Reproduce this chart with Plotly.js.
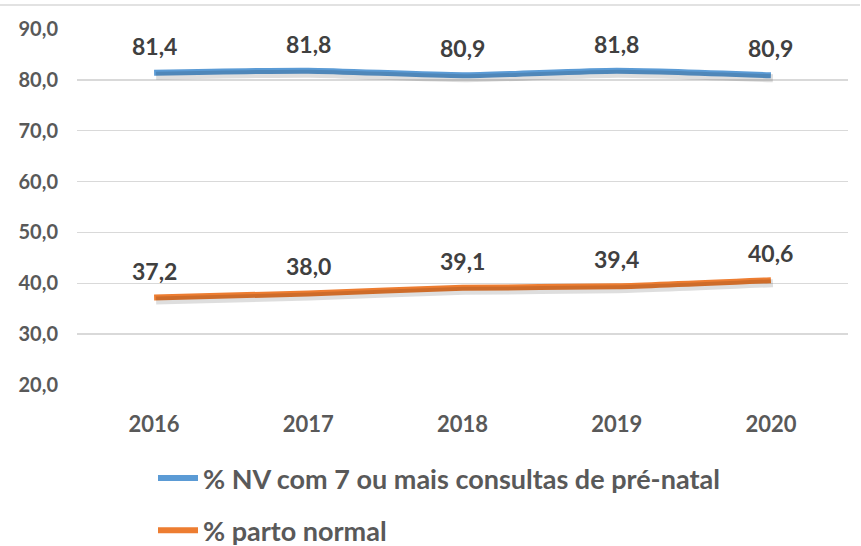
<!DOCTYPE html>
<html>
<head>
<meta charset="utf-8">
<script src="https://cdn.plot.ly/plotly-3.0.1.min.js"></script>
<style>html,body{margin:0;padding:0;background:#fff;}#chart{width:861px;height:546px;}</style>
</head>
<body>
<div id="chart"></div>
<script>
const years = ['2016', '2017', '2018', '2019', '2020'];
const prenatal = [81.4, 81.8, 80.9, 81.8, 80.9];
const partoNormal = [37.2, 38.0, 39.1, 39.4, 40.6];
const seriesNames = ['% NV com 7 ou mais consultas de pré-natal', '% parto normal'];
const yTicks = [20, 30, 40, 50, 60, 70, 80, 90];

const W = 861, H = 546;
const M = {l: 77, r: 13, t: 29, b: 161, autoexpand: false};
const pw = W - M.l - M.r, ph = H - M.t - M.b;
const FONT = 'Lato, "Open Sans", sans-serif';
const fmt = v => v.toFixed(1).replace('.', ',');

const colors = ['#5b9bd5', '#ed7d31'];
const series = [prenatal, partoNormal];

const traces = [];
series.forEach((s) => {
  traces.push({
    x: years, y: s, type: 'scatter', mode: 'lines',
    xaxis: 'x2', yaxis: 'y2', hoverinfo: 'skip', showlegend: false,
    line: {color: 'rgba(0,0,0,0.13)', width: 8, shape: 'spline', smoothing: 0.6}
  });
});
series.forEach((s, i) => {
  traces.push({
    x: years, y: s, type: 'scatter', mode: 'lines', name: seriesNames[i],
    legendgroup: 'g' + i,
    line: {color: colors[i], width: 6, shape: 'spline', smoothing: 0.6}
  });
});

const annotations = [];
series.forEach((s) => {
  s.forEach((v, j) => {
    annotations.push({
      x: j, y: v, xref: 'x', yref: 'y', text: fmt(v), showarrow: false,
      yshift: 27, font: {family: FONT, size: 23, color: '#404040', weight: 'bold'}
    });
  });
});

const sx = 2 * 5 / pw, sy = 3 * 70 / ph;
const layout = {
  width: W, height: H,
  margin: M,
  paper_bgcolor: '#fff', plot_bgcolor: '#fff',
  separators: ',.',
  font: {family: FONT, color: '#595959'},
  xaxis: {
    type: 'category', range: [-0.5, 4.5], showgrid: false, zeroline: false, showline: false,
    ticks: '', ticklabelstandoff: 24,
    tickfont: {family: FONT, size: 22, color: '#595959', weight: 'bold'}
  },
  yaxis: {
    range: [20, 90], tickvals: yTicks, tickformat: '.1f', showgrid: true,
    gridcolor: '#d9d9d9', gridwidth: 1.5, zeroline: false, showline: false,
    ticks: '', ticklabelstandoff: 18,
    tickfont: {family: FONT, size: 20, color: '#595959', weight: 'bold'}
  },
  xaxis2: {type: 'category', range: [-0.5 - sx, 4.5 - sx], overlaying: 'x', anchor: 'y2', visible: false, showgrid: false},
  yaxis2: {range: [20 + sy, 90 + sy], overlaying: 'y', anchor: 'x2', visible: false, showgrid: false},
  showlegend: true,
  legend: {
    orientation: 'v', x: (153 - M.l) / pw, xanchor: 'left',
    y: (385 - 454) / ph, yanchor: 'top',
    font: {family: FONT, size: 27, color: '#595959', weight: 'bold'},
    tracegroupgap: 14, itemwidth: 40, bgcolor: 'rgba(0,0,0,0)'
  },
  annotations: annotations,
  shapes: [{
    type: 'line', xref: 'paper', yref: 'paper',
    x0: -M.l / pw, x1: (W - 1 - M.l) / pw,
    y0: 1 + (M.t - 5) / ph, y1: 1 + (M.t - 5) / ph,
    line: {color: '#d9d9d9', width: 1.5}
  }]
};

Plotly.newPlot('chart', traces, layout, {displayModeBar: false, staticPlot: true});
</script>
</body>
</html>
